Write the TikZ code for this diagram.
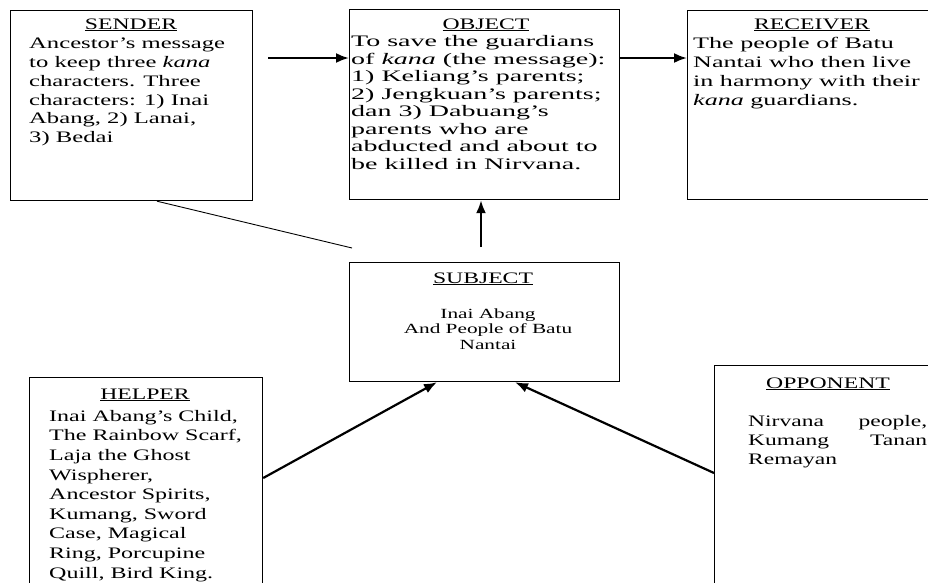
\documentclass[tikz,border=0pt]{standalone}
\usepackage{fontspec}
\setmainfont{Liberation Serif}
\newfontfamily\fTitle[FakeStretch=1.48]{Liberation Serif}
\newfontfamily\fSend[FakeStretch=1.54]{Liberation Serif}
\newfontfamily\fObj[FakeStretch=1.75]{Liberation Serif}
\newfontfamily\fRec[FakeStretch=1.63]{Liberation Serif}
\newfontfamily\fSub[FakeStretch=1.52]{Liberation Serif}
\newfontfamily\fHelp[FakeStretch=1.5]{Liberation Serif}
\newfontfamily\fOpp[FakeStretch=1.47]{Liberation Serif}
\usetikzlibrary{arrows.meta}
\newcommand\fstrut{\rule{0pt}{12.5pt}}
\begin{document}
\begin{tikzpicture}[x=1pt,y=-1pt,
  box/.style={draw, line width=1.2pt, inner sep=0pt, anchor=north west},
  ttl/.style={anchor=base, inner sep=0pt, font=\fTitle\fontsize{16}{18}\selectfont},
  body/.style={anchor=north west, inner sep=0pt, align=left},
  arr/.style={line width=2.2pt, -{Latex[length=13pt,width=10pt]}},
  thinline/.style={line width=0.9pt}]
\fill[white] (0,0) rectangle (928,582);
\useasboundingbox (0,0) rectangle (928,582);
\clip (0,0) rectangle (928,582);
% boxes
\node[box, minimum width=242pt, minimum height=190pt] (sen) at (10,10) {};
\node[box, minimum width=270pt, minimum height=190pt] (obj) at (349,9) {};
\node[box, minimum width=250pt, minimum height=189pt] (rec) at (687,10) {};
\node[box, minimum width=270pt, minimum height=119pt] (sub) at (349,262) {};
\node[box, minimum width=233pt, minimum height=220pt] (hel) at (29,377) {};
\node[box, minimum width=230pt, minimum height=230pt] (opp) at (714,365) {};
% titles
\node[ttl] (senT) at (131,29) {\underline{SENDER}};
\node[ttl] (objT) at (486,29) {\underline{OBJECT}};
\node[ttl] (recT) at (812,29) {\underline{RECEIVER}};
\node[ttl] (subT) at (483,283) {\underline{SUBJECT}};
\node[ttl] (helT) at (145,399) {\underline{HELPER}};
\node[ttl] (oppT) at (828,388) {\underline{OPPONENT}};
% bodies
\node[body, font=\fSend\fontsize{16}{18.8}\selectfont] (senB) at (29,36)
 {\fstrut Ancestor’s message\\to keep three \textit{kana}\\characters. Three\\characters: 1) Inai\\Abang, 2) Lanai,\\3) Bedai};
\node[body, font=\fObj\fontsize{16}{17.5}\selectfont] (objB) at (351,34)
 {\fstrut To save the guardians\\of \textit{kana} (the message):\\1) Keliang’s parents;\\2) Jengkuan’s parents;\\dan 3) Dabuang’s\\parents who are\\abducted and about to\\be killed in Nirvana.};
\node[body, font=\fRec\fontsize{16}{18.8}\selectfont] (recB) at (693,36)
 {\fstrut The people of Batu\\Nantai who then live\\in harmony with their\\\textit{kana} guardians.};
\node[anchor=north, inner sep=0pt, align=center, font=\fSub\fontsize{14}{15.5}\selectfont] (subB) at (488,305.5)
 {\fstrut Inai Abang\\And People of Batu\\Nantai};
\node[body, font=\fHelp\fontsize{16}{19.6}\selectfont] (helB) at (49,408.5)
 {\fstrut Inai Abang’s Child,\\The Rainbow Scarf,\\Laja the Ghost\\Wispherer,\\Ancestor Spirits,\\Kumang, Sword\\Case, Magical\\Ring, Porcupine\\Quill, Bird King.};
\node[body, font=\fOpp\fontsize{16}{19}\selectfont] (oppB) at (748,413.5)
 {\fstrut\makebox[179pt][s]{Nirvana people,}\\\makebox[179pt][s]{Kumang Tanan}\\Remayan};
% connectors
\coordinate (sa) at (268,58);
\draw[arr] (sa) -- (sa -| obj.west);
\draw[arr] (obj.east |- sa) -- (rec.west |- sa);
\coordinate (sb) at (481,247);
\draw[arr] (sb) -- ([xshift=132pt]obj.south west);
\coordinate (sc) at (352,248);
\draw[thinline] ([xshift=147pt]sen.south west) -- (sc);
\draw[arr] ([yshift=-101pt]hel.north east) -- ([xshift=88pt]sub.south west);
\draw[arr] ([yshift=-108pt]opp.north west) -- ([xshift=166pt]sub.south west);
\end{tikzpicture}
\end{document}
